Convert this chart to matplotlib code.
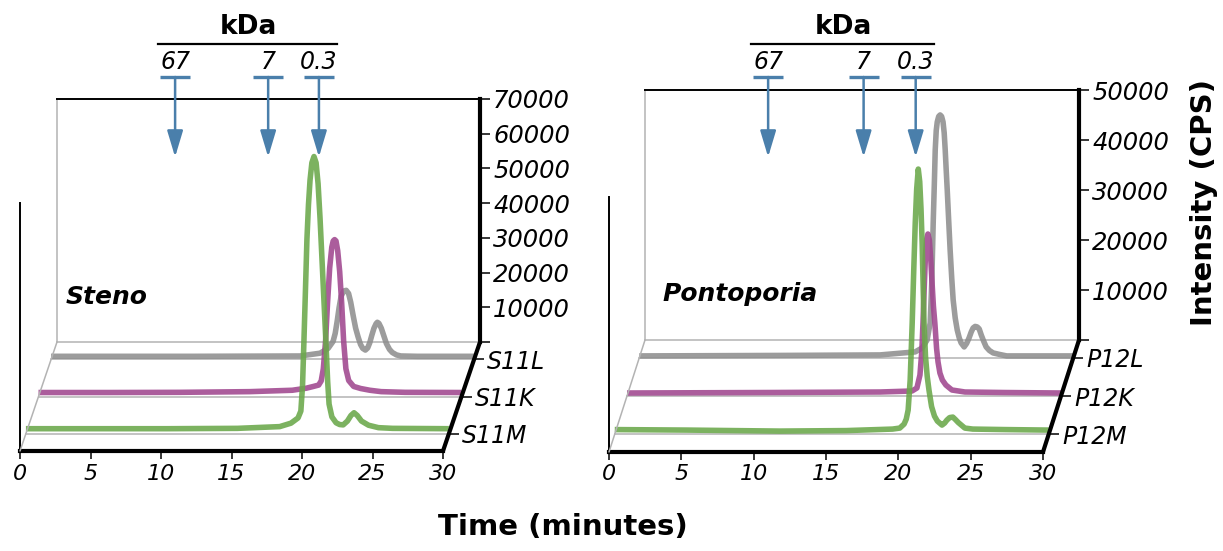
import matplotlib
matplotlib.use("Agg")
from matplotlib import pyplot as plt
from matplotlib import transforms
from matplotlib.patches import ConnectionPatch

plt.rcParams['font.family'] = ['DejaVu Sans']

# ---- data (time in minutes, intensity in CPS) ----
series_names_steno = ["S11L", "S11K", "S11M"]
series_names_ponto = ["P12L", "P12K", "P12M"]
series_colors = ["#8e8e8e", "#a0478f", "#6aa84a"]

steno_l_t = [0, 10, 17.67, 19.08, 19.65, 20.0, 20.15, 20.29, 20.43, 20.57, 20.75, 20.93, 21.1, 21.25,
             21.43, 21.6, 21.78, 21.95, 22.1, 22.29, 22.45, 22.6, 22.75, 22.9, 23.05, 23.14, 23.25,
             23.42, 23.6, 23.78, 24.0, 24.2, 24.5, 24.8, 26, 30]
steno_l_i = [900, 900, 1000, 1800, 3200, 5200, 7500, 11000, 15000, 18200, 19700, 19900, 19000, 16500,
             12500, 9000, 6400, 4300, 3200, 2700, 3300, 4800, 7000, 9000, 10300, 10700, 10400,
             9000, 6800, 4600, 2900, 2000, 1300, 1000, 900, 900]

steno_k_t = [0, 5, 10, 15, 18, 19.0, 19.5, 19.87, 20.05, 20.2, 20.36, 20.5, 20.65, 20.8, 20.9, 21.0,
             21.1, 21.22, 21.36, 21.5, 21.64, 21.8, 22.0, 22.35, 22.85, 23.5, 24.3, 26, 30]
steno_k_i = [1150, 1150, 1200, 1400, 1800, 2400, 2900, 3300, 4500, 8000, 16000, 27000, 37000, 43000,
             44800, 45200, 44800, 42000, 36000, 27000, 16000, 8000, 4600, 2900, 2300, 1800, 1400,
             1200, 1150]

steno_m_t = [0, 5, 10, 15, 18.0, 18.8, 19.3, 19.5, 19.62, 19.72, 19.83, 19.93, 20.04, 20.15, 20.28,
             20.43, 20.58, 20.72, 20.86, 21.0, 21.14, 21.28, 21.4, 21.5, 21.7, 22.0, 22.25, 22.5,
             22.8, 23.05, 23.27, 23.5, 23.8, 24.3, 25.0, 26, 30]
steno_m_i = [1400, 1400, 1400, 1500, 2000, 3000, 4500, 6500, 14000, 27000, 42000, 56000, 66000,
             73000, 78000, 79800, 78000, 72000, 62000, 50000, 38000, 26000, 15000, 8500, 4800,
             3100, 2600, 2500, 3600, 5200, 6000, 5200, 3600, 2400, 1700, 1500, 1400]

ponto_l_t = [0, 10, 16.65, 19.07, 19.56, 19.9, 20.11, 20.22, 20.32, 20.4, 20.46, 20.53, 20.6, 20.7,
             20.8, 20.9, 21.0, 21.08, 21.15, 21.22, 21.29, 21.39, 21.49, 21.6, 21.7, 21.84, 21.98,
             22.12, 22.25, 22.46, 22.63, 22.8, 22.95, 23.08, 23.22, 23.36, 23.5, 23.64, 23.8, 23.98,
             24.2, 24.46, 24.9, 25.4, 30]
ponto_l_i = [400, 500, 600, 1200, 2000, 3600, 7000, 15000, 27000, 35000, 41600, 45500, 47200, 48300,
             48600, 48300, 47200, 45000, 41600, 37500, 33600, 27500, 21600, 16000, 11600, 8000,
             5600, 4000, 3000, 2200, 2900, 4000, 5200, 6000, 6300, 6200, 5800, 4600, 3400, 2200,
             1500, 1000, 700, 400, 400]

ponto_k_t = [0, 10, 17.5, 19.7, 20.04, 20.25, 20.38, 20.46, 20.55, 20.63, 20.71, 20.8, 20.9, 21.0,
             21.1, 21.18, 21.28, 21.4, 21.5, 21.63, 21.8, 22.04, 22.46, 23.36, 26, 30]
ponto_k_i = [600, 700, 800, 1000, 1600, 4200, 9000, 14600, 22000, 28000, 31300, 32400, 31200, 27200,
             22000, 18000, 14600, 9500, 6800, 4600, 3200, 2200, 1200, 800, 700, 600]

ponto_m_t = [0, 5, 11.4, 16, 19.2, 19.7, 20.0, 20.15, 20.28, 20.42, 20.56, 20.67, 20.77, 20.87, 20.98,
             21.08, 21.17, 21.25, 21.32, 21.38, 21.48, 21.6, 21.72, 21.9, 22.1, 22.3, 22.62, 22.8,
             22.96, 23.15, 23.37, 23.55, 23.75, 24.2, 24.75, 27, 30]
ponto_m_i = [900, 800, 600, 700, 1000, 1200, 2000, 3000, 4800, 10800, 22200, 33000, 42200, 49000,
             53000, 50500, 45000, 38000, 29000, 22200, 15500, 11500, 8800, 5500, 3600, 2600, 1800,
             2200, 2800, 3300, 3400, 2900, 2300, 1200, 1000, 900, 800]

# molecular weight standards (elution time, minutes)
standard_labels = ["67", "7", "0.3"]
standard_times = [11.0, 17.6, 21.2]

time_ticks = [0, 5, 10, 15, 20, 25, 30]

W, H = 1223, 551
fig = plt.figure(figsize=(W / 100, H / 100), dpi=100)

BLUE = "#4a7fab"
FLOOR_GREY = "#b3b3b3"


def add_plane(x_front, y_front, width, height, dx, dy, f):
    '''returns an axes placed at depth fraction f (0 = front, 1 = back wall), in pixels'''
    x = x_front + dx * f
    y = y_front - dy * f
    ax = fig.add_axes([x / W, (H - y) / H, width / W, height / H])
    ax.patch.set_visible(False)
    return ax


def draw_panel(geom, ymax, yticks, names, times, intens, title, title_x):
    x_front, y_front, width, height, dx, dy = geom
    depth = [0.84, 0.5, 0.16]

    # back wall with the intensity axis
    back = add_plane(x_front, y_front, width, height, dx, dy, 1.0)
    back.set_xlim(0, 30)
    back.set_ylim(0, ymax)
    back.set_xticks([])
    back.spines['left'].set_color(FLOOR_GREY)
    back.spines['left'].set_linewidth(1.1)
    back.spines['bottom'].set_color(FLOOR_GREY)
    back.spines['bottom'].set_linewidth(1.1)
    back.spines['top'].set_linewidth(1.4)
    back.spines['right'].set_linewidth(3.0)
    back.yaxis.tick_right()
    back.set_yticks(yticks)
    back.set_yticklabels([""] + [str(v) for v in yticks[1:]], fontsize=17.5, style='italic')
    back.tick_params(axis='y', direction='out', length=7.5, width=1.1, pad=2)
    back.text(title_x, 0.185, title, transform=back.transAxes, fontsize=18, fontweight='bold',
              style='italic', va='center', ha='left')

    # one plane per sample, from back to front
    for name, t, i, col, f in zip(names, times, intens, series_colors, depth):
        ax = add_plane(x_front, y_front, width, height, dx, dy, f)
        ax.set_xlim(0, 30)
        ax.set_ylim(0, ymax)
        for s in ['top', 'left', 'right']:
            ax.spines[s].set_visible(False)
        ax.spines['bottom'].set_color(FLOOR_GREY)
        ax.spines['bottom'].set_linewidth(1.1)
        ax.set_xticks([])
        ax.yaxis.tick_right()
        ax.set_yticks([0])
        ax.set_yticklabels([name], fontsize=17, style='italic')
        ax.tick_params(axis='y', direction='out', length=7.5, width=1.1, pad=2)
        ax.plot(t, i, color=col, lw=4.0, alpha=0.88, clip_on=False, zorder=3,
                solid_joinstyle='round', solid_capstyle='butt')

    # front plane with the time axis
    front = add_plane(x_front, y_front, width, height, dx, dy, 0.0)
    front.set_xlim(0, 30)
    front.set_ylim(0, ymax)
    front.spines['top'].set_visible(False)
    front.spines['right'].set_visible(False)
    front.spines['bottom'].set_linewidth(3.0)
    front.spines['left'].set_linewidth(1.4)
    front.spines['left'].set_bounds(0, ymax * 1.02)
    front.set_yticks([])
    front.set_xticks(time_ticks)
    front.set_xticklabels([str(v) for v in time_ticks], fontsize=16, style='italic')
    front.tick_params(axis='x', direction='out', length=6, width=1.1, pad=3)

    # edges joining front and back
    for xy_f, xy_b, col, lw in [((0, ymax * 1.02), (0, ymax), "black", 1.4),
                                ((0, 0), (0, 0), FLOOR_GREY, 1.1),
                                ((30, 0), (30, 0), "black", 3.0)]:
        con = ConnectionPatch(xyA=xy_f, coordsA='data', axesA=front,
                              xyB=xy_b, coordsB='data', axesB=back, color=col, lw=lw)
        fig.add_artist(con)

    # size standards with arrows
    blend = transforms.blended_transform_factory(front.transData, fig.transFigure)
    fy = lambda px: 1 - px / H
    for lab, t in zip(standard_labels, standard_times):
        front.annotate('', xy=(t, fy(157)), xytext=(t, fy(77)), xycoords=blend, textcoords=blend,
                       arrowprops=dict(arrowstyle='-|>,head_length=0.8,head_width=0.24', color=BLUE,
                                       lw=1.8, shrinkA=0, shrinkB=0, mutation_scale=20),
                       annotation_clip=False)
        front.plot([t], [fy(77)], marker='_', markersize=21, markeredgewidth=2.4, color=BLUE,
                   transform=blend, clip_on=False)
        front.text(t, fy(62), lab, transform=blend, fontsize=17, style='italic',
                   ha='center', va='center')
    front.plot([9.8, 22.45], [fy(44), fy(44)], color="black", lw=1.6, transform=blend, clip_on=False)
    front.text(16.2, fy(27), "kDa", transform=blend, fontsize=19, fontweight='bold',
               ha='center', va='center')
    return back, front


draw_panel((20, 451, 423, 243, 37, 109), 70000, [0, 10000, 20000, 30000, 40000, 50000, 60000, 70000],
           series_names_steno, [steno_l_t, steno_k_t, steno_m_t], [steno_l_i, steno_k_i, steno_m_i],
           "Steno", 0.02)
draw_panel((609, 452, 434, 250, 36, 112), 50000, [0, 10000, 20000, 30000, 40000, 50000],
           series_names_ponto, [ponto_l_t, ponto_k_t, ponto_m_t], [ponto_l_i, ponto_k_i, ponto_m_i],
           "Pontoporia", 0.04)

fig.text(563 / W, 1 - 527 / H, "Time (minutes)", fontsize=21, fontweight='bold', ha='center', va='center')
fig.text(1204 / W, 1 - 203 / H, "Intensity (CPS)", fontsize=21, fontweight='bold', rotation=90,
         ha='center', va='center')

fig.savefig("out.png", dpi=100)
